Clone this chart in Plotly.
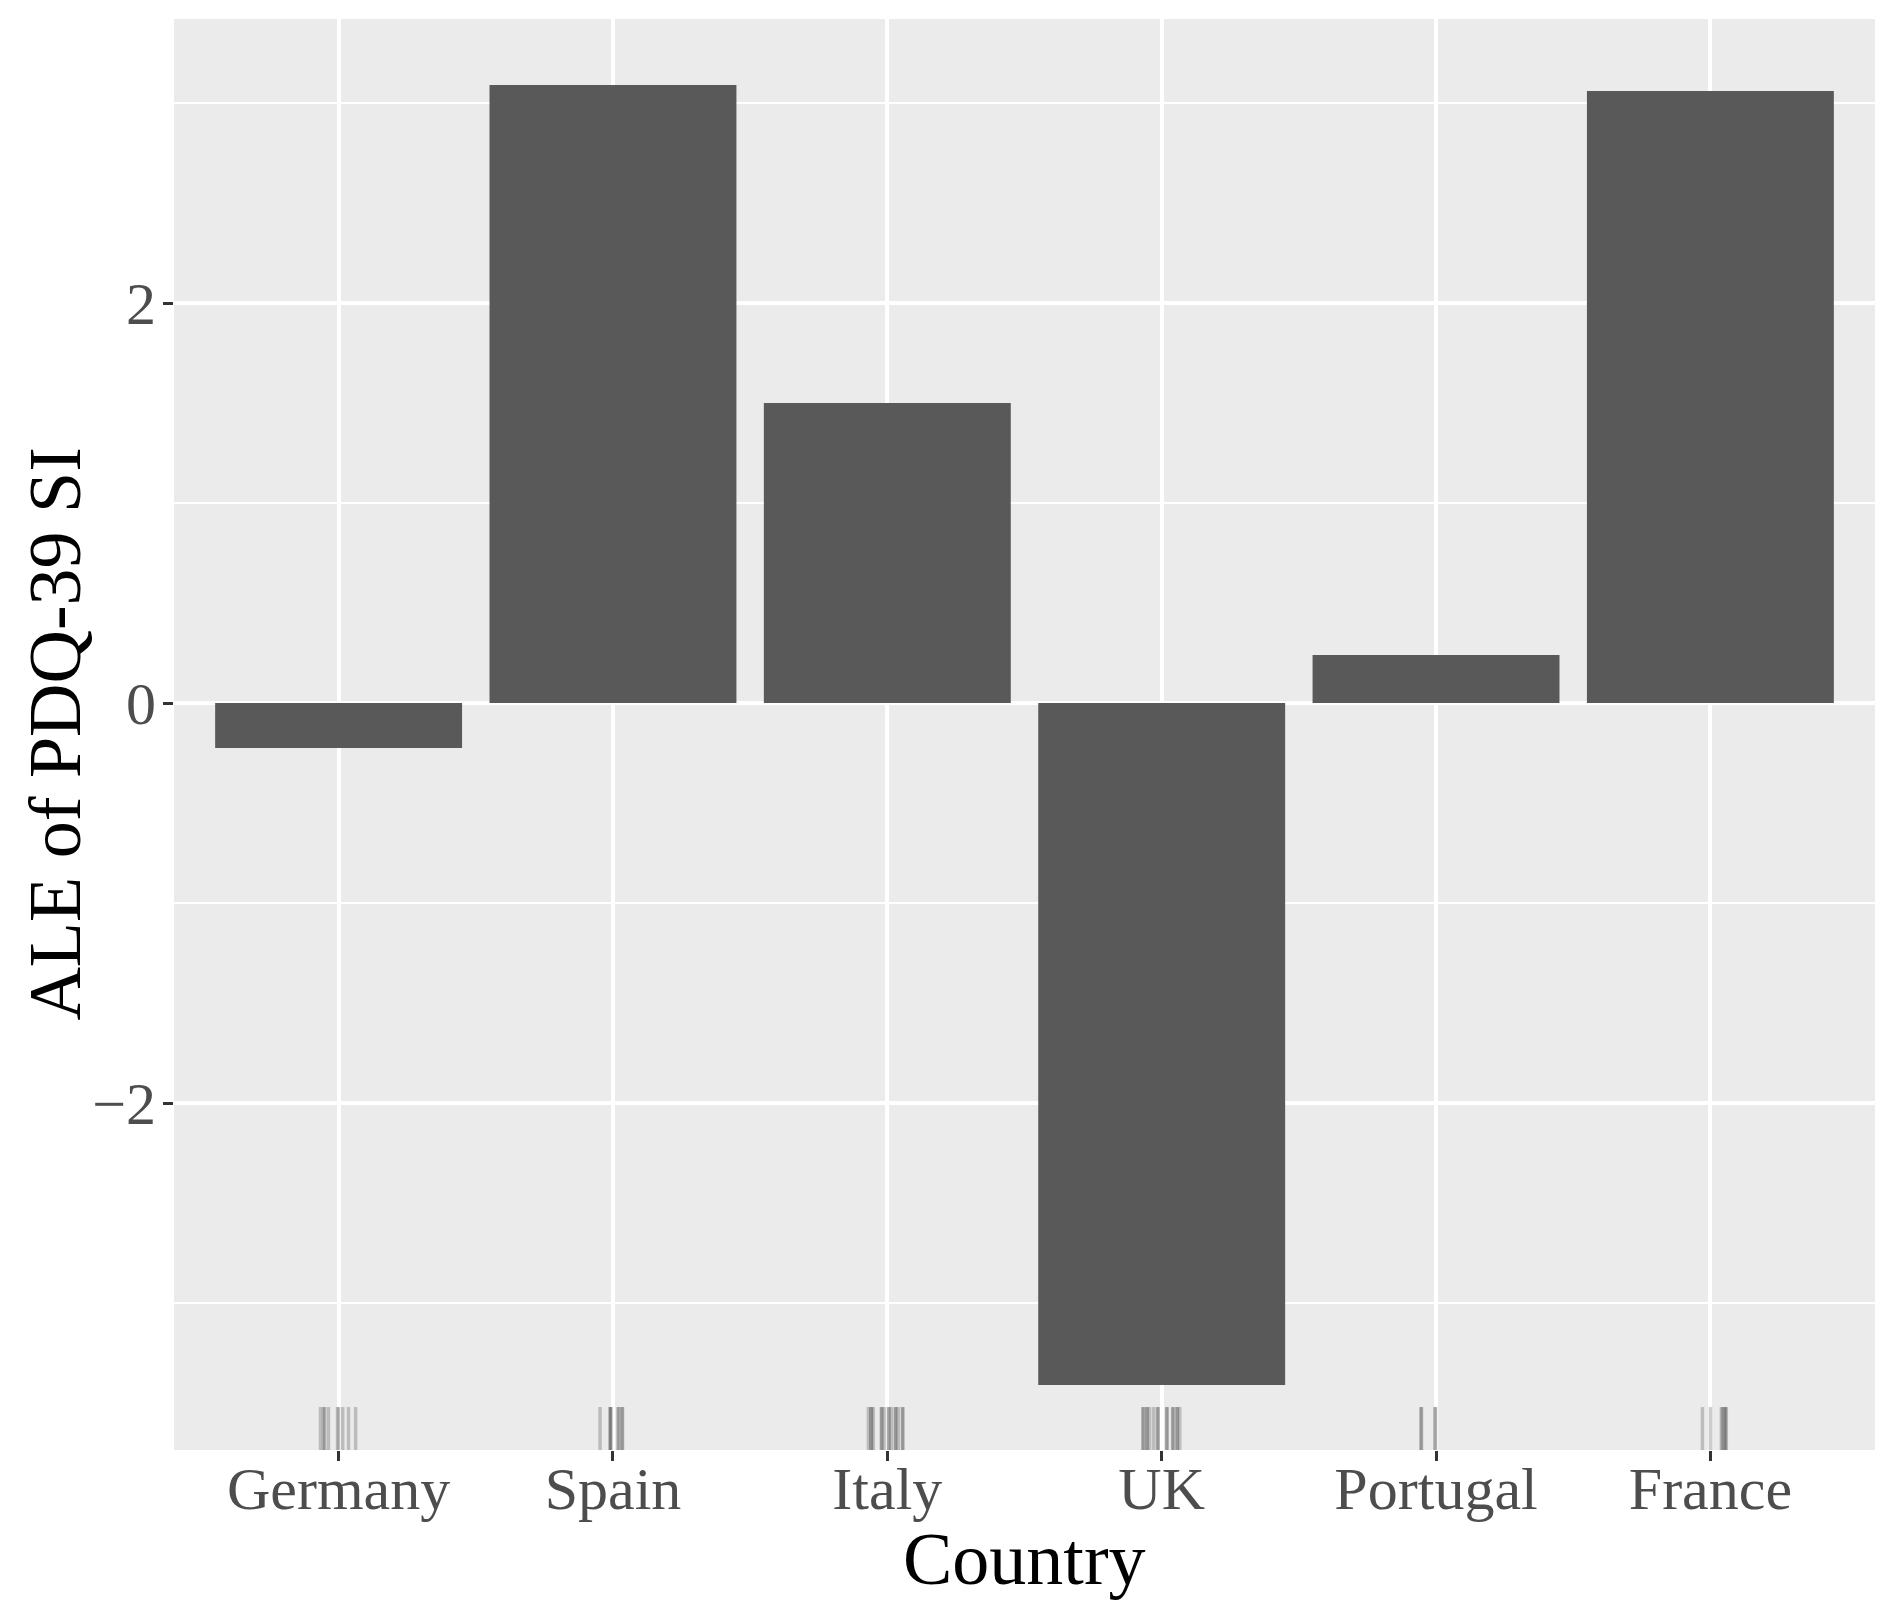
import plotly.graph_objects as go

countries = ["Germany", "Spain", "Italy", "UK", "Portugal", "France"]
ale_values = [-0.225, 3.09, 1.50, -3.41, 0.24, 3.06]

# rug: observed data positions (category index offsets, jittered)
rug_offsets = {
    "Germany": [-0.066, -0.055, -0.051, -0.037, -0.004, 0.0, 0.015, 0.036, 0.062],
    "Spain": [-0.047, -0.011, -0.009, -0.007, 0.018, 0.022, 0.033, 0.035],
    "Italy": [-0.069, -0.060, -0.058, -0.051, -0.022, -0.020, -0.011, 0.004, 0.006,
              0.015, 0.029, 0.031, 0.040, 0.055, 0.057],
    "UK": [-0.069, -0.066, -0.055, -0.053, -0.044, -0.029, -0.015, -0.013, 0.018,
           0.020, 0.040, 0.042, 0.055, 0.057, 0.066],
    "Portugal": [-0.055, -0.053, -0.004, -0.002],
    "France": [-0.029, 0.0, 0.040, 0.044, 0.051, 0.055, 0.058],
}

y_tickvals = [-2, 0, 2]
y_ticktext = ["\u22122", "0", "2"]
y_minor = [-3, -1, 1, 3]

x_pos = list(range(1, len(countries) + 1))

fig = go.Figure()
fig.add_trace(go.Bar(
    x=x_pos, y=ale_values, width=0.9,
    marker=dict(color="#595959", line=dict(width=0)),
    hoverinfo="skip", showlegend=False,
))

shapes = []
for i, c in enumerate(countries):
    for off in rug_offsets[c]:
        xv = x_pos[i] + off
        shapes.append(dict(
            type="line", xref="x", yref="paper",
            x0=xv, x1=xv, y0=0, y1=0.03,
            line=dict(color="rgba(0,0,0,0.2)", width=3.5),
            layer="above",
        ))

font_family = "Liberation Serif, Times New Roman, serif"

fig.update_layout(
    width=1895, height=1611, autosize=False,
    margin=dict(l=166, r=28, t=11, b=169),
    paper_bgcolor="white", plot_bgcolor="#ebebeb",
    font=dict(family=font_family, color="#4d4d4d"),
    bargap=0.1,
    shapes=shapes,
    annotations=[
        dict(text="ALE of PDQ-39 SI", xref="paper", yref="paper",
             x=-0.0705, y=0.5, xanchor="center", yanchor="middle",
             textangle=-90, showarrow=False,
             font=dict(family=font_family, size=74, color="black")),
        dict(text="Country", xref="paper", yref="paper",
             x=0.5, y=-0.0762, xanchor="center", yanchor="middle",
             showarrow=False,
             font=dict(family=font_family, size=74, color="black")),
    ],
)

fig.update_xaxes(
    range=[0.4, 6.6], tickmode="array", tickvals=x_pos, ticktext=countries,
    showgrid=True, gridcolor="white", gridwidth=3.5,
    zeroline=False, showline=False, automargin=False,
    ticks="outside", ticklen=10, tickwidth=2.5, tickcolor="#333333",
    ticklabelstandoff=-24,
    tickfont=dict(family=font_family, size=60, color="#4d4d4d"),
    fixedrange=True,
)
fig.update_yaxes(
    range=[-3.735, 3.42], tickmode="array", tickvals=y_tickvals, ticktext=y_ticktext,
    showgrid=True, gridcolor="white", gridwidth=3.5,
    zeroline=False, showline=False, automargin=False,
    ticks="outside", ticklen=10, tickwidth=2.5, tickcolor="#333333",
    ticklabelstandoff=-5,
    tickfont=dict(family=font_family, size=60, color="#4d4d4d"),
    minor=dict(tickmode="array", tickvals=y_minor, showgrid=True,
               gridcolor="white", gridwidth=1.8, ticks=""),
    fixedrange=True,
)

fig.write_html("out.html")
